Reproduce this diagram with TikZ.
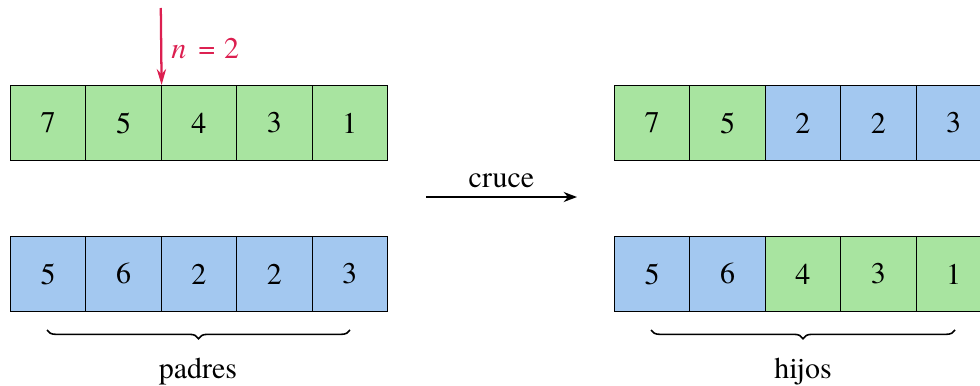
\documentclass[tikz,border=0pt]{standalone}
\usepackage{fontspec}
\setmainfont{TeX Gyre Termes}
\usetikzlibrary{decorations.pathreplacing,arrows.meta}
\definecolor{cgreen}{HTML}{A8E4A0}
\definecolor{cblue}{HTML}{A3C8F0}
\definecolor{cred}{HTML}{DC1F50}
\begin{document}
\begin{tikzpicture}[x=0.75pt,y=-0.75pt,
  cell/.style={draw=black, line width=0.6pt, minimum width=56.55pt, minimum height=56.25pt,
    inner sep=0pt, anchor=north west, font=\fontsize{22.5}{26}\selectfont},
  lbl/.style={font=\fontsize{22.5}{26}\selectfont, inner sep=0pt},
  brc/.style={decorate, decoration={brace, mirror, amplitude=6.5pt}, line width=1.2pt},
  cutarrow/.style={draw=cred, line width=1.7pt, -{Stealth[length=12pt,width=7pt]}},
  mainarrow/.style={line width=1.5pt, -{Stealth[length=10pt,width=7.5pt]}}]
\useasboundingbox (0,0) rectangle (980,385);
% parents
\foreach \v [count=\i from 0] in {7,5,4,3,1}
  \node[cell,fill=cgreen] (pa\i) at (10+75.4*\i,85) {\v};
\foreach \v [count=\i from 0] in {5,6,2,2,3}
  \node[cell,fill=cblue] (pb\i) at (10+75.4*\i,236) {\v};
% children
\foreach \v/\c [count=\i from 0] in {7/cgreen,5/cgreen,2/cblue,2/cblue,3/cblue}
  \node[cell,fill=\c] (ca\i) at (614+75.4*\i,85) {\v};
\foreach \v/\c [count=\i from 0] in {5/cblue,6/cblue,4/cgreen,3/cgreen,1/cgreen}
  \node[cell,fill=\c] (cb\i) at (614+75.4*\i,236) {\v};
% cut point
\coordinate (cutstart) at (160.8,8);
\draw[cutarrow] (cutstart) -- (pa1.north east);
\node[lbl, text=cred, anchor=west] (nlab) at (171,48) {\textit{n}\hspace{0.4em}=\hspace{0.3em}2};
% crossover arrow
\coordinate (arrA) at (426,197);
\coordinate (arrB) at (577,197);
\draw[mainarrow] (arrA) -- node[lbl, above=6pt] (cruce) {cruce} (arrB);
% braces
\coordinate (bl1) at (47,330);
\coordinate (bl2) at (350,330);
\draw[brc] (bl1) -- (bl2);
\node[lbl] (padres) at (198,372) {padres};
\coordinate (br1) at (651,330);
\coordinate (br2) at (955,330);
\draw[brc] (br1) -- (br2);
\node[lbl] (hijos) at (803,372) {hijos};
\end{tikzpicture}
\end{document}
